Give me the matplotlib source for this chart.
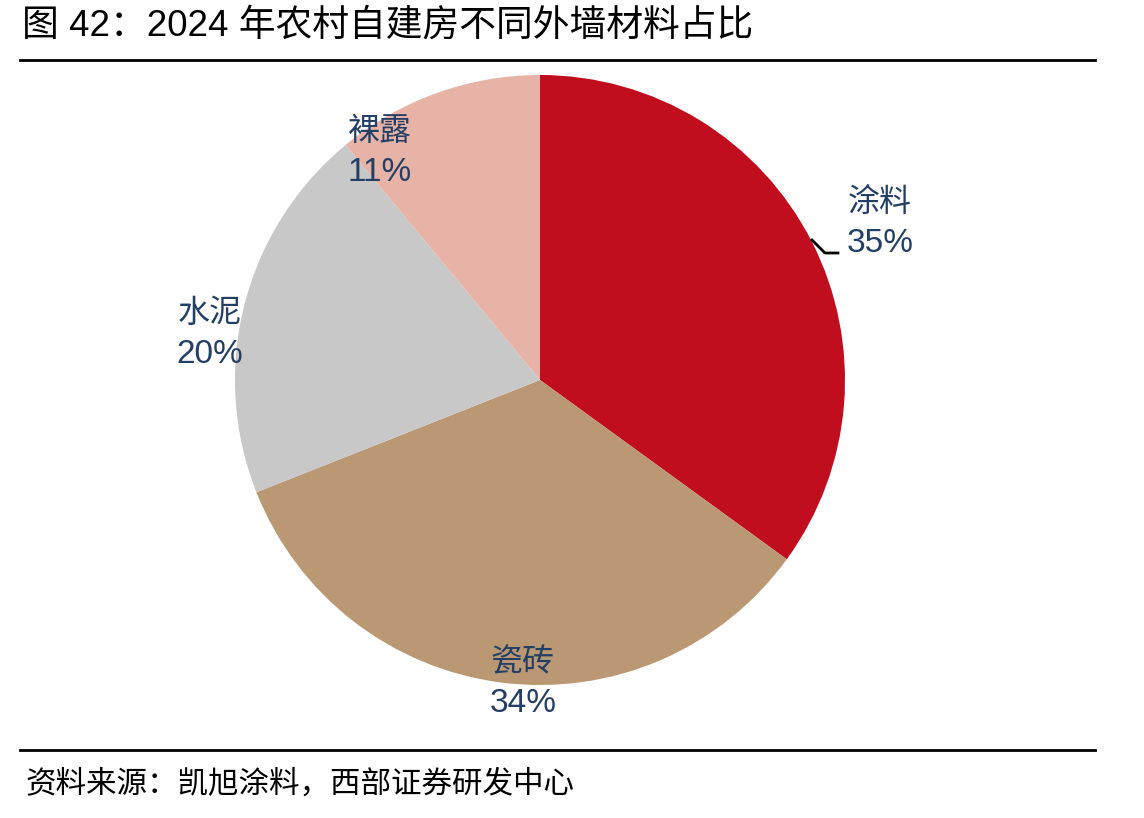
import matplotlib
matplotlib.use("Agg")
import matplotlib.pyplot as plt
from matplotlib.lines import Line2D

# data
materials = ["涂料", "瓷砖", "水泥", "裸露"]
shares = [35, 34, 20, 11]
colors = ["#C10E1E", "#BA9874", "#C8C8C8", "#E8B3A7"]

title = "图 42：2024 年农村自建房不同外墙材料占比"
source = "资料来源：凯旭涂料，西部证券研发中心"

# label anchor positions (pixels from top-left)
label_pos = [(880, 221), (523, 681), (210, 332), (380, 150)]

W, H = 1144, 818
label_color = "#243F66"
fam = ["Liberation Sans", "Noto Sans CJK SC", "DejaVu Sans"]
title_fam = ["Liberation Sans Narrow", "Liberation Sans", "Noto Sans CJK SC"]

fig = plt.figure(figsize=(W / 100, H / 100), dpi=100)

# pie drawn first, in its own axes
pax = fig.add_axes([0, 0, 1, 1])
pax.pie(shares, colors=colors, startangle=90, counterclock=False,
        center=(540, H - 380), radius=305, frame=True,
        wedgeprops=dict(linewidth=0))
pax.set_xlim(0, W)
pax.set_ylim(0, H)
pax.axis("off")

# overlay axes in pixel coordinates for text and rules
ax = fig.add_axes([0, 0, 1, 1], zorder=5)
ax.patch.set_alpha(0)
ax.set_xlim(0, W)
ax.set_ylim(H, 0)
ax.axis("off")

for name, val, (x, y) in zip(materials, shares, label_pos):
    ax.text(x, y - 3, name, ha="center", va="bottom", fontsize=23,
            color=label_color, family=fam)
    ax.text(x, y + 7, f"{val}%", ha="center", va="top", fontsize=24,
            color=label_color, family=fam)

# leader line for 涂料
ax.add_line(Line2D([812, 825, 838], [240, 253, 253], color="black", lw=2))

# title, rules and source
ax.text(22, 26, title, ha="left", va="center", fontsize=26.5, color="black",
        family=title_fam)
ax.add_line(Line2D([20, 1095], [60, 60], color="black", lw=2))
ax.add_line(Line2D([20, 1095], [750, 750], color="black", lw=2))
ax.text(25, 785, source, ha="left", va="center", fontsize=22, color="black",
        family=fam)

fig.savefig("out.png", dpi=100)
